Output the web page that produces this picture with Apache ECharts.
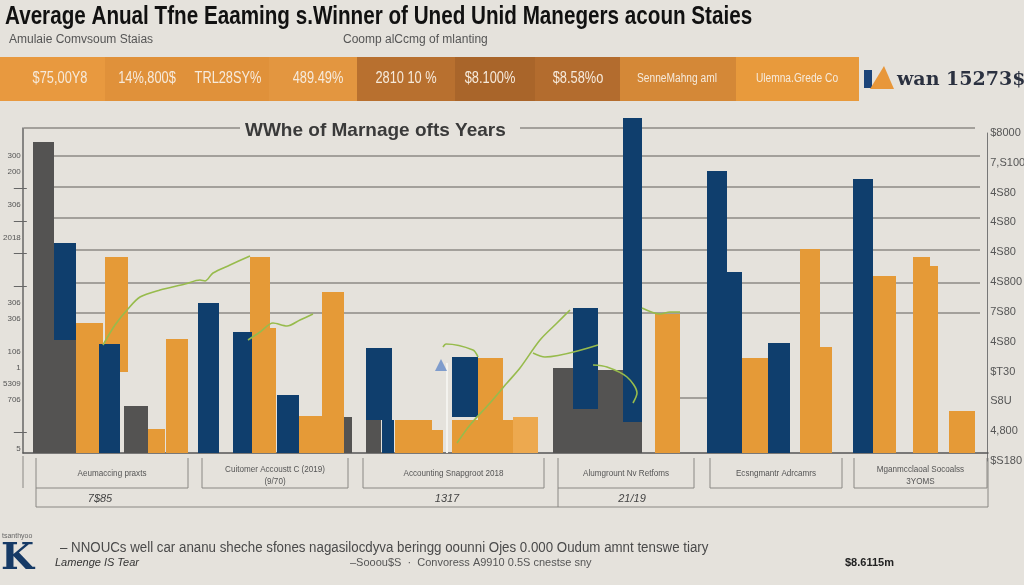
<!DOCTYPE html>
<html>
<head>
<meta charset="utf-8">
<script src="https://cdn.jsdelivr.net/npm/echarts@6/dist/echarts.min.js"></script>
<style>
  html, body { margin: 0; padding: 0; background: #e5e2dc; }
  #main { width: 1024px; height: 585px; }
</style>
</head>
<body>
<div id="main"></div>
<script>
// bars: [start, end, top, base] on the position / value axes
const grayBars = [
  [10, 31, 311, 0], [31, 53, 113, 0], [101, 125, 47, 0], [317, 329, 36, 0],
  [343, 358, 33, 0], [530, 575, 85, 0], [575, 619, 83, 0]
];
const orangeBars = [
  [53, 80, 130, 0], [82, 105, 196, 81], [125, 142, 24, 0], [143, 165, 114, 0],
  [227, 247, 196, 0], [247, 253, 125, 0], [276, 303, 37, 0], [299, 321, 161, 0],
  [372, 409, 33, 0], [409, 420, 23, 0], [429, 490, 33, 0], [455, 480, 95, 0],
  [632, 657, 139, 0], [719, 745, 95, 0], [777, 797, 204, 0], [797, 809, 106, 0],
  [850, 873, 177, 0], [890, 907, 196, 0], [907, 915, 187, 0], [926, 952, 42, 0]
];
const lightOrangeBars = [[490, 515, 36, 0]];
const blueBars = [
  [31, 53, 210, 113], [76, 97, 109, 0], [175, 196, 150, 0], [210, 229, 121, 0],
  [254, 276, 58, 0], [343, 369, 105, 33], [359, 371, 33, 0], [429, 455, 96, 36],
  [550, 575, 145, 44], [600, 619, 335, 31], [684, 704, 282, 0], [704, 719, 181, 0],
  [745, 767, 110, 0], [830, 850, 274, 0]
];
const greenSegments = [
  [[80, 108], [92, 128], [104, 143], [117, 156], [137, 163], [162, 169], [177, 173], [182, 172], [190, 180], [207, 188], [227, 197]],
  [[225, 113], [237, 121], [250, 130], [264, 127], [277, 133], [290, 139]],
  [[420, 106], [423, 109], [450, 103], [455, 96]],
  [[434, 10], [447, 28], [467, 50], [484, 70], [497, 85], [517, 113], [534, 130], [547, 143]],
  [[510, 100], [522, 96], [575, 108]],
  [[570, 88], [584, 86], [604, 76], [614, 60], [610, 50]],
  [[619, 145], [637, 139], [647, 141], [657, 141]]
];
const gridLines = [
  [1, 217, 325], [497, 952, 325], [31, 957, 297], [31, 957, 266], [31, 957, 235],
  [31, 957, 203], [31, 957, 170], [53, 957, 140], [657, 684, 55]
];
const leftLabels = ['5', '', '', '706', '5309', '1', '106', '', '306', '306', '', '', '', '2018', '', '306', '', '200', '300'];
const leftTicks = [1, 10, 12, 14, 16];
const rightLabels = ['$S180', '4,800', 'S8U', '$T30', '4S80', '7S80', '4S800', '4S80', '4S80', '4S80', '7,S100', '$8000'];

const headerBoxes = [
  [0, 105, '#e8993f', ['$75,00Y8'], [60]],
  [105, 269, '#e0913a', ['14%,800$', 'TRL28SY%'], [147, 228]],
  [269, 357, '#e39640', ['489.49%'], [318]],
  [357, 455, '#b8702f', ['2810 10 %'], [406]],
  [455, 535, '#a9652a', ['$8.100%'], [490]],
  [535, 620, '#b36c2e', ['$8.58%o'], [578]],
  [620, 736, '#d48837', ['SenneMahng aml'], [677]],
  [736, 859, '#e89a3c', ['Ulemna.Grede Co'], [797]]
];
const axisBoxes = [
  [36, 188, ['Aeumaccing praxts']],
  [202, 348, ['Cuitomer Accoustt C (2019)', '(9/70)']],
  [363, 544, ['Accounting Snapgroot 2018']],
  [558, 694, ['Alumgrount Nv Retfoms']],
  [710, 842, ['Ecsngmantr Adrcamrs']],
  [854, 987, ['Mganmcclaoal Socoalss', '3YOMS']]
];
const axisYears = [[100, '7$85'], [447, '1317'], [632, '21/19']];

const chart = echarts.init(document.getElementById('main'));

function barSeries(data, color) {
  return {
    type: 'custom',
    clip: false,
    z: 3,
    data: data,
    renderItem: function (params, api) {
      const p0 = api.coord([api.value(0), api.value(2)]);
      const p1 = api.coord([api.value(1), api.value(3)]);
      return {
        type: 'rect',
        shape: { x: p0[0], y: p0[1], width: p1[0] - p0[0], height: p1[1] - p0[1] },
        style: { fill: color }
      };
    }
  };
}

const series = [
  {
    type: 'custom',
    z: 1,
    clip: false,
    data: gridLines,
    renderItem: function (params, api) {
      const a = api.coord([api.value(0), api.value(2)]);
      const b = api.coord([api.value(1), api.value(2)]);
      return {
        type: 'line',
        shape: { x1: a[0], y1: a[1], x2: b[0], y2: b[1] },
        style: { stroke: '#8c8a86', lineWidth: 1.5 }
      };
    }
  },
  barSeries(grayBars, '#545352'),
  barSeries(orangeBars, '#e59a37'),
  barSeries(lightOrangeBars, '#eda94f'),
  barSeries(blueBars, '#0f3e6d'),
  {
    type: 'line',
    z: 5,
    data: [{ value: [424, 0], symbol: 'none' }, { value: [424, 90], symbol: 'triangle', symbolSize: 12, symbolOffset: [-6, 2] }],
    lineStyle: { color: '#f4f3ef', width: 2 },
    itemStyle: { color: '#7f9ccc' },
    showSymbol: true,
    silent: true
  }
];
greenSegments.forEach(function (seg) {
  series.push({
    type: 'line',
    z: 6,
    data: seg,
    smooth: 0.3,
    showSymbol: false,
    lineStyle: { color: '#97bb4c', width: 1.6 },
    silent: true
  });
});

const graphic = [
  { type: 'text', x: 5, y: 17, scaleX: 0.826,
    style: { text: 'Average Anual Tfne Eaaming s.Winner of Uned Unid Manegers acoun Staies', fill: '#111',
      verticalAlign: 'middle', font: 'bold 25px "Liberation Sans", sans-serif' } }
];
headerBoxes.forEach(function (b) {
  graphic.push({ type: 'rect', shape: { x: b[0], y: 57, width: b[1] - b[0], height: 44 }, style: { fill: b[2] } });
  b[3].forEach(function (t, i) {
    const small = t.length > 12;
    graphic.push({
      type: 'text', x: b[4][i], y: 79, scaleX: small ? 0.85 : 0.8,
      style: {
        text: t, fill: '#f6eadb', align: 'center', verticalAlign: 'middle',
        font: (small ? 'normal 12px' : 'normal 16px') + ' "Liberation Sans", sans-serif'
      }
    });
  });
});
graphic.push(
  { type: 'rect', shape: { x: 864, y: 70, width: 8, height: 18 }, style: { fill: '#1b4479' } },
  { type: 'polygon', shape: { points: [[870, 89], [884, 66], [894, 89]] }, style: { fill: '#e8973a' } },
  { type: 'text', x: 897, y: 80, style: { text: 'wan 15273$3', fill: '#2b3140', verticalAlign: 'middle', font: 'bold 19px "DejaVu Serif", serif' } }
);
axisBoxes.forEach(function (b) {
  graphic.push({
    type: 'polyline',
    shape: { points: [[b[0], 458], [b[0], 488], [b[1], 488], [b[1], 458]] },
    style: { stroke: '#8a8884', lineWidth: 1, fill: null }
  });
  const cx = (b[0] + b[1]) / 2;
  b[2].forEach(function (t, i) {
    graphic.push({
      type: 'text', x: cx, y: (b[2].length > 1 ? 470 : 474) + i * 12, scaleX: 0.9,
      style: { text: t, fill: '#555', align: 'center', verticalAlign: 'middle', font: '9px "Liberation Sans", sans-serif' }
    });
  });
});
graphic.push(
  { type: 'polyline', shape: { points: [[36, 488], [36, 507], [988, 507], [988, 458]] }, style: { stroke: '#8a8884', lineWidth: 1, fill: null } },
  { type: 'line', shape: { x1: 558, y1: 488, x2: 558, y2: 507 }, style: { stroke: '#8a8884', lineWidth: 1 } },
  { type: 'line', shape: { x1: 23, y1: 456, x2: 23, y2: 488 }, style: { stroke: '#8a8884', lineWidth: 1 } }
);
axisYears.forEach(function (y) {
  graphic.push({ type: 'text', x: y[0], y: 499, style: { text: y[1], fill: '#444', align: 'center', verticalAlign: 'middle', font: 'italic 11px "Liberation Sans", sans-serif' } });
});
// footer
graphic.push(
  { type: 'text', x: 2, y: 536, style: { text: 'tsanthyoo', fill: '#666', verticalAlign: 'middle', font: '7px "Liberation Sans", sans-serif' } },
  { type: 'text', x: 1, y: 559, style: { text: 'K', fill: '#163a66', verticalAlign: 'middle', font: 'bold 38px "DejaVu Serif", serif' } },
  { type: 'text', x: 60, y: 548, scaleX: 0.95, style: { text: '– NNOUCs well car ananu sheche sfones nagasilocdyva beringg oounni Ojes 0.000 Oudum amnt tenswe tiary', fill: '#4a4a4a', verticalAlign: 'middle', font: '14px "Liberation Sans", sans-serif' } },
  { type: 'text', x: 55, y: 563, style: { text: 'Lamenge IS Tear', fill: '#333', verticalAlign: 'middle', font: 'italic 11px "Liberation Sans", sans-serif' } },
  { type: 'text', x: 350, y: 563, style: { text: '–Sooou$S  ·  Convoress A9910 0.5S cnestse sny', fill: '#555', verticalAlign: 'middle', font: '11px "Liberation Sans", sans-serif' } },
  { type: 'text', x: 845, y: 563, style: { text: '$8.6115m', fill: '#222', verticalAlign: 'middle', font: 'bold 11px "Liberation Sans", sans-serif' } }
);

const option = {
  backgroundColor: '#e5e2dc',
  animation: false,
  title: [
    { text: 'Amulaie Comvsoum Staias', left: 4, top: 29,
      textStyle: { fontSize: 12, fontWeight: 'normal', color: '#555', fontFamily: '"Liberation Sans", sans-serif' } },
    { text: 'Coomp alCcmg of mlanting', left: 338, top: 29,
      textStyle: { fontSize: 12, fontWeight: 'normal', color: '#555', fontFamily: '"Liberation Sans", sans-serif' } },
    { text: 'WWhe of Marnage ofts Years', left: 240, top: 116,
      textStyle: { fontSize: 19, fontWeight: 'bold', color: '#3a3a3a', fontFamily: '"Liberation Sans", sans-serif' } }
  ],
  grid: [
    { left: 23, right: 36, top: 128, bottom: 132 },
    { left: 23, right: 36, top: 156, bottom: 136 },
    { left: 987, width: 1, top: 133, bottom: 124 }
  ],
  xAxis: [
    { type: 'value', gridIndex: 0, min: 0, max: 965, axisLine: { show: true, lineStyle: { color: '#555', width: 1.5 } },
      axisTick: { show: false }, axisLabel: { show: false }, splitLine: { show: false } },
    { type: 'value', gridIndex: 1, show: false },
    { type: 'value', gridIndex: 2, show: false }
  ],
  yAxis: [
    { type: 'value', gridIndex: 0, min: 0, max: 325, axisLine: { show: true, lineStyle: { color: '#666', width: 1.5 } },
      axisTick: { show: false }, axisLabel: { show: false }, splitLine: { show: false } },
    { type: 'category', gridIndex: 1, data: leftLabels, boundaryGap: false,
      axisLine: { show: false },
      axisTick: { show: true, length: 13, interval: function (i) { return leftTicks.indexOf(i) >= 0; }, lineStyle: { color: '#666' } },
      axisLabel: { interval: 0, margin: 6, fontSize: 8, color: '#555', fontFamily: '"Liberation Sans", sans-serif' } },
    { type: 'category', gridIndex: 2, position: 'right', data: rightLabels, boundaryGap: false,
      axisLine: { show: true, lineStyle: { color: '#777' } }, axisTick: { show: false },
      axisLabel: { interval: 0, margin: 3, fontSize: 11, color: '#555', fontFamily: '"Liberation Sans", sans-serif' } }
  ],
  series: series,
  graphic: graphic
};
chart.setOption(option);
</script>
</body>
</html>
